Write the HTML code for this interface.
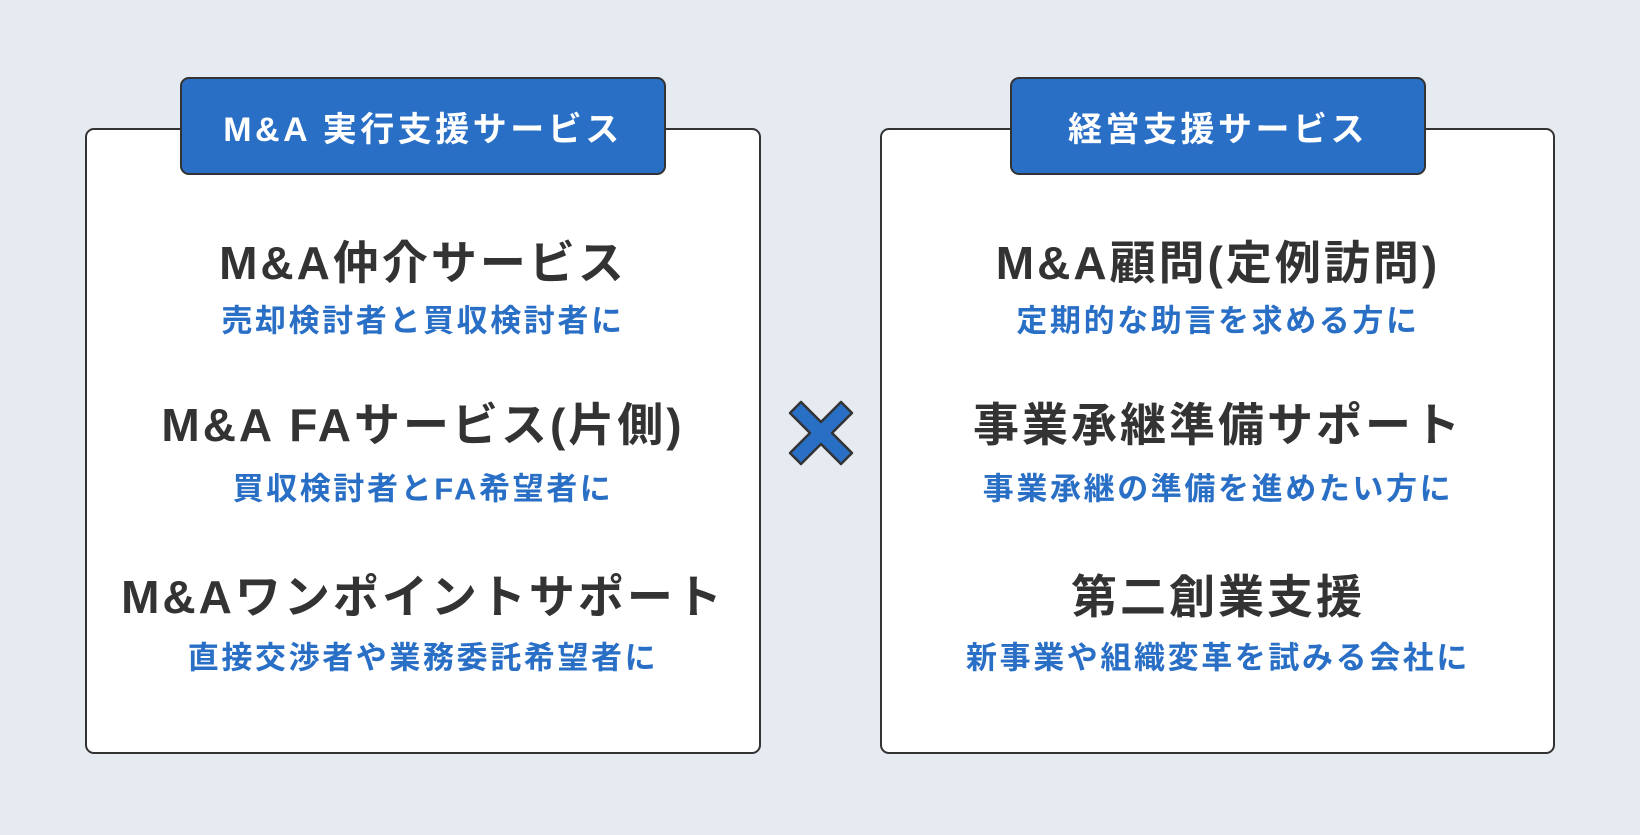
<!DOCTYPE html>
<html><head><meta charset="utf-8"><style>
body{margin:0;width:1640px;height:835px;background:#e6ebf2;position:relative;overflow:hidden;font-family:"Liberation Sans","Noto Sans CJK JP",sans-serif;}
.box{position:absolute;top:128px;height:626px;background:#fff;border:2.5px solid #333;border-radius:9px;box-sizing:border-box;}
.tab{position:absolute;top:77px;height:98px;background:#2a6fc6;border:2.5px solid #333;border-radius:9px;box-sizing:border-box;color:#fff;font-size:34px;font-weight:bold;display:flex;align-items:center;justify-content:center;letter-spacing:3.5px;}
.t{position:absolute;width:760px;text-align:center;font-weight:bold;color:#333;font-size:46px;letter-spacing:3px;line-height:1;transform:translate(-50%,-50%);}
.s{position:absolute;width:760px;text-align:center;font-weight:bold;color:#2a6fc6;font-size:31px;letter-spacing:2.6px;line-height:1;transform:translate(-50%,-50%);}
</style></head><body>
<div class="box" style="left:85px;width:676px"></div>
<div class="box" style="left:880px;width:675px"></div>
<div class="tab" style="left:180px;width:486px">M&amp;A 実行支援サービス</div>
<div class="tab" style="left:1010px;width:416px">経営支援サービス</div>

<div class="t" style="left:423px;top:263px">M&amp;A仲介サービス</div>
<div class="s" style="left:423px;top:321px">売却検討者と買収検討者に</div>
<div class="t" style="left:423px;top:425px">M&amp;A FAサービス(片側)</div>
<div class="s" style="left:423px;top:489px">買収検討者とFA希望者に</div>
<div class="t" style="left:423px;top:597px">M&amp;Aワンポイントサポート</div>
<div class="s" style="left:423px;top:658px">直接交渉者や業務委託希望者に</div>

<div class="t" style="left:1218px;top:263px">M&amp;A顧問(定例訪問)</div>
<div class="s" style="left:1218px;top:321px">定期的な助言を求める方に</div>
<div class="t" style="left:1218px;top:425px">事業承継準備サポート</div>
<div class="s" style="left:1218px;top:489px">事業承継の準備を進めたい方に</div>
<div class="t" style="left:1218px;top:597px">第二創業支援</div>
<div class="s" style="left:1218px;top:658px">新事業や組織変革を試みる会社に</div>

<svg style="position:absolute;left:786px;top:398px" width="70" height="70" viewBox="0 0 70 70">
<path d="M4 15 L15 4 L35 24 L55 4 L66 15 L46 35 L66 55 L55 66 L35 46 L15 66 L4 55 L24 35 Z" fill="#2a6fc6" stroke="#333" stroke-width="2.5" stroke-linejoin="round"/>
</svg>
</body></html>
